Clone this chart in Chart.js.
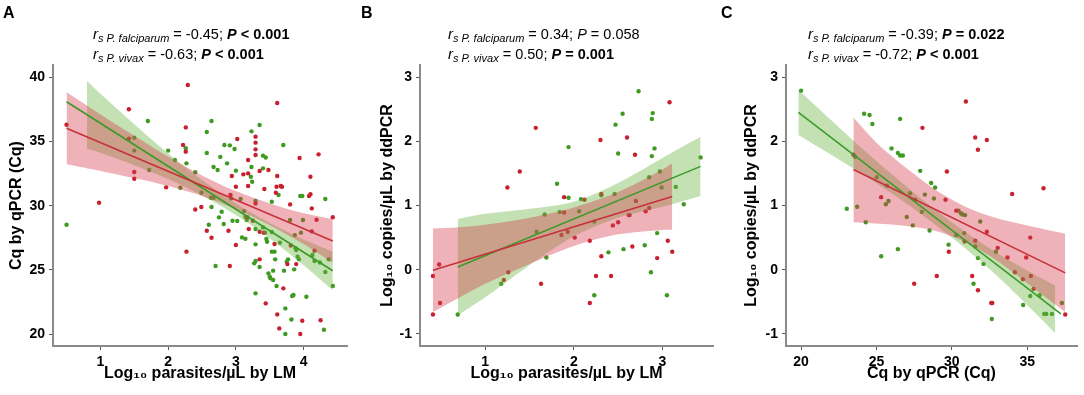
<!DOCTYPE html>
<html><head><meta charset="utf-8">
<script src="https://cdn.jsdelivr.net/npm/chart.js@4.4.1/dist/chart.umd.min.js"></script>
<style>
body{margin:0;background:#fff;width:1084px;height:395px;overflow:hidden;position:relative;font-family:"Liberation Sans",Arial,sans-serif;color:#000}
.pane{position:absolute;top:0;height:395px}
.lab{position:absolute;font-weight:bold;font-size:16px;line-height:1}
.ann{position:absolute;font-size:14.5px;line-height:1;white-space:nowrap}
.ann .r{font-style:italic;font-size:15px}
.ann sub{font-size:11px;font-style:italic;vertical-align:-3px;line-height:1}
</style></head>
<body>
<div class="pane" style="left:0;width:360px"><canvas id="cA" width="360" height="395"></canvas></div>
<div class="pane" style="left:360px;width:360px"><canvas id="cB" width="360" height="395"></canvas></div>
<div class="pane" style="left:720px;width:364px"><canvas id="cC" width="364" height="395"></canvas></div>

<div class="lab" style="left:3px;top:5px">A</div>
<div class="lab" style="left:361px;top:5px">B</div>
<div class="lab" style="left:721px;top:5px">C</div>

<div class="ann" style="left:93px;top:26px"><span class="r">r</span><sub>s P. falciparum</sub> = -0.45; <b><i>P</i> &lt; 0.001</b></div>
<div class="ann" style="left:93px;top:46px"><span class="r">r</span><sub>s P. vivax</sub> = -0.63; <b><i>P</i> &lt; 0.001</b></div>
<div class="ann" style="left:448px;top:26px"><span class="r">r</span><sub>s P. falciparum</sub> = 0.34; <i>P</i> = 0.058</div>
<div class="ann" style="left:448px;top:46px"><span class="r">r</span><sub>s P. vivax</sub> = 0.50; <b><i>P</i> = 0.001</b></div>
<div class="ann" style="left:808px;top:26px"><span class="r">r</span><sub>s P. falciparum</sub> = -0.39; <b><i>P</i> = 0.022</b></div>
<div class="ann" style="left:808px;top:46px"><span class="r">r</span><sub>s P. vivax</sub> = -0.72; <b><i>P</i> &lt; 0.001</b></div>

<script>
// ---------- Panel A: Log10 parasites/µL by LM vs Cq ----------
const A_xTicks = [1, 2, 3, 4];
const A_yTicks = [20, 25, 30, 35, 40];
const A_falcX = [0.50,0.98,1.42,1.42,1.50,1.50,1.97,2.22,2.26,2.26,2.27,2.29,2.40,2.49,2.57,2.64,2.89,2.91,2.92,2.94,3.00,3.00,3.02,3.11,3.17,3.18,3.18,3.18,3.19,3.25,3.29,3.29,3.29,3.29,3.29,3.35,3.35,3.35,3.41,3.42,3.44,3.48,3.57,3.59,3.60,3.61,3.61,3.61,3.64,3.66,3.68,3.70,3.76,3.80,3.81,3.89,3.94,3.95,3.98,4.08,4.10,4.10,4.12,4.12,4.16,4.19,4.22,4.25,4.43];
const A_falcY = [36.31,30.23,37.51,35.22,32.62,32.10,31.43,34.73,36.10,34.21,26.42,39.40,29.70,29.90,28.05,27.50,28.05,25.30,30.83,32.31,31.48,26.94,35.20,32.44,29.10,31.53,33.56,32.52,28.18,28.83,30.18,35.38,34.91,34.39,33.95,32.70,27.97,25.82,27.90,31.30,22.39,32.78,27.01,31.01,31.48,38.00,32.31,21.53,20.44,31.53,31.48,23.56,25.45,30.10,26.90,25.45,33.71,20.00,21.04,30.75,30.90,32.26,29.79,28.00,26.49,28.91,34.00,21.08,29.10];
const A_vivX = [0.50,1.50,1.50,1.70,1.72,2.00,2.10,2.18,2.26,2.27,2.40,2.49,2.57,2.57,2.60,2.63,2.64,2.64,2.67,2.67,2.70,2.73,2.75,2.77,2.79,2.82,2.83,2.87,2.91,2.93,2.95,2.98,3.00,3.02,3.07,3.09,3.12,3.14,3.14,3.16,3.22,3.23,3.23,3.24,3.27,3.29,3.29,3.29,3.29,3.29,3.35,3.35,3.40,3.40,3.40,3.43,3.44,3.45,3.46,3.48,3.50,3.51,3.53,3.53,3.53,3.55,3.55,3.57,3.58,3.60,3.63,3.65,3.70,3.71,3.73,3.73,3.75,3.77,3.80,3.82,3.83,3.85,3.86,3.87,3.88,3.89,3.91,3.93,3.95,3.96,3.98,3.99,4.04,4.13,4.16,4.24,4.30,4.32,4.32,4.37,4.43];
const A_vivY = [28.52,34.29,35.30,36.60,32.78,34.29,33.56,31.40,34.47,33.30,32.60,31.01,35.74,34.10,28.52,30.62,36.60,29.90,33.01,30.62,25.30,32.78,29.09,33.80,29.53,28.57,34.73,33.30,34.70,30.57,28.83,34.42,32.73,28.81,30.52,27.53,29.58,29.14,27.43,28.88,32.26,35.79,33.01,31.87,25.51,30.36,28.18,26.99,25.69,23.17,36.29,25.22,33.90,32.91,28.31,27.90,33.76,27.40,27.19,24.73,24.47,24.34,30.31,27.95,26.42,24.21,24.94,26.42,25.82,23.74,30.83,27.12,34.73,24.94,22.00,20.00,25.64,25.82,28.88,21.14,22.96,23.04,25.04,27.71,26.68,26.55,26.03,25.82,30.75,27.90,30.75,28.88,22.91,26.16,25.69,25.58,20.34,30.52,24.83,25.82,23.74];
const A_falcFitX = [0.50, 4.43];
const A_falcFitY = [36.03, 27.25];
const A_vivFitX = [0.50, 4.43];
const A_vivFitY = [38.10, 24.93];
const A_falcBandX  = [0.5, 1.0, 1.5, 2.0, 2.5, 3.0, 3.5, 4.0, 4.43];
const A_falcBandHi = [38.83,37.11,35.45,33.83,32.36,31.14,30.18,29.41,28.95];
const A_falcBandLo = [33.23,32.71,32.15,31.53,30.76,29.74,28.48,27.01,25.55];
const A_vivBandX  = [0.8, 1.0, 1.5, 2.0, 2.5, 3.0, 3.5, 4.0, 4.43];
const A_vivBandHi = [39.74,38.72,36.35,34.07,32.00,30.17,28.65,27.37,26.43];
const A_vivBandLo = [34.44,34.12,33.15,32.07,30.80,29.27,27.45,25.37,23.43];

// ---------- Panel B: Log10 parasites/µL by LM vs Log10 copies/µL ----------
const B_xTicks = [1, 2, 3];
const B_yTicks = [-1, 0, 1, 2, 3];
const B_falcX = [0.41,0.41,0.48,0.49,1.25,1.26,1.21,1.39,1.57,1.63,1.86,1.89,1.89,1.93,2.01,2.12,2.18,2.18,2.25,2.30,2.31,2.31,2.42,2.44,2.50,2.60,2.62,2.66,2.69,2.70,2.81,2.85,2.94,3.06,3.08,3.11];
const B_falcY = [-0.10,-0.70,0.08,-0.52,1.28,-0.04,-0.16,1.53,2.21,-0.22,0.54,1.13,0.89,0.59,0.50,1.09,0.45,-0.52,-0.10,2.02,1.18,0.21,-0.10,0.69,0.74,2.06,0.85,0.36,1.79,1.07,0.91,0.96,0.18,0.45,2.61,0.28];
const B_vivX = [0.69,1.18,1.58,1.67,1.69,1.81,1.84,1.94,1.94,2.06,2.08,2.23,2.23,2.31,2.39,2.46,2.47,2.50,2.55,2.56,2.63,2.73,2.80,2.85,2.87,2.88,2.88,2.89,2.91,2.94,2.97,2.99,3.05,3.15,3.24,3.43];
const B_vivY = [-0.70,-0.22,0.59,0.86,0.19,1.34,0.90,1.12,1.91,0.91,1.10,-0.40,0.75,1.16,0.27,1.18,2.26,1.81,2.43,0.32,0.85,2.78,0.38,1.44,-0.04,1.77,2.35,2.44,1.89,0.57,1.53,1.28,-0.40,1.29,1.02,1.75];
const B_falcFitX = [0.41, 3.11];
const B_falcFitY = [-0.01, 1.14];
const B_vivFitX = [0.69, 3.43];
const B_vivFitY = [0.04, 1.61];
const B_falcBandX  = [0.41, 0.7, 1.0, 1.5, 2.0, 2.5, 3.0, 3.11];
const B_falcBandHi = [0.64,0.66,0.70,0.81,0.97,1.21,1.56,1.66];
const B_falcBandLo = [-0.66,-0.44,-0.22,0.09,0.37,0.55,0.62,0.62];
const B_vivBandX  = [0.69, 1.0, 1.5, 2.0, 2.5, 3.0, 3.43];
const B_vivBandHi = [0.79,0.87,0.95,1.06,1.35,1.74,2.07];
const B_vivBandLo = [-0.71,-0.43,0.07,0.52,0.81,0.98,1.15];

// ---------- Panel C: Cq vs Log10 copies/µL ----------
const C_xTicks = [20, 25, 30, 35];
const C_yTicks = [-1, 0, 1, 2, 3];
const C_falcX = [23.47,25.31,27.50,28.05,29.00,29.67,29.58,29.80,30.29,30.84,30.93,31.35,31.55,31.55,31.73,31.73,32.32,32.32,32.61,32.68,33.04,33.69,34.00,34.18,34.71,34.93,35.20,35.24,35.42,36.08,37.52];
const C_falcY = [1.79,1.13,-0.22,2.21,-0.10,1.53,1.09,0.28,0.92,0.44,2.62,-0.10,2.06,0.45,1.87,-0.32,2.02,0.59,-0.52,-0.52,0.34,0.19,1.18,-0.04,-0.15,0.19,0.50,-0.10,-0.30,1.27,-0.70];
const C_vivX = [20.00,23.03,23.58,23.72,24.18,24.54,24.73,24.29,25.02,25.31,25.62,25.69,25.80,26.00,26.42,26.42,26.57,26.57,26.75,27.01,27.23,27.41,27.57,27.90,28.01,28.21,28.52,28.63,28.81,28.89,29.78,30.29,30.44,30.60,30.71,30.82,30.88,31.44,31.55,31.73,31.88,32.10,32.65,32.92,34.73,35.20,35.82,36.13,36.26,36.64,37.30];
const C_vivY = [2.79,0.95,1.76,0.98,2.43,2.41,2.27,0.74,1.44,0.21,1.02,1.31,1.07,1.89,0.32,1.82,1.78,2.35,1.78,0.82,1.19,0.69,1.09,1.54,0.90,1.17,0.61,1.35,1.11,1.28,0.39,0.54,0.92,0.88,0.86,0.57,0.85,-0.22,0.36,0.18,0.75,0.09,-0.77,0.28,-0.55,-0.41,-0.40,-0.69,-0.69,-0.69,-0.52];
const C_falcFitX = [23.47, 37.52];
const C_falcFitY = [1.56, -0.05];
const C_vivFitX = [19.82, 37.23];
const C_vivFitY = [2.45, -0.69];
const C_falcBandX  = [23.47, 25, 27, 29, 31, 33, 35, 37.52];
const C_falcBandHi = [2.37,1.98,1.58,1.23,0.97,0.80,0.69,0.56];
const C_falcBandLo = [0.74,0.72,0.68,0.60,0.42,0.14,-0.21,-0.66];
const C_vivBandX  = [19.82, 22, 24, 26, 28, 30, 32, 34, 36.86];
const C_vivBandHi = [2.80,2.33,1.90,1.49,1.10,0.74,0.41,0.12,-0.25];
const C_vivBandLo = [2.10,1.79,1.50,1.19,0.86,0.50,0.11,-0.32,-0.99];

// ---------- styling ----------
const RED_PT = '#c8202e', GRN_PT = '#3f9a22';
const RED_LN = '#c8303a', GRN_LN = '#3c9a28';
const RED_BAND = 'rgba(212,62,78,0.40)', GRN_BAND = 'rgba(105,180,65,0.40)';
Chart.defaults.font.family = '"Liberation Sans", Arial, sans-serif';
Chart.defaults.color = '#000';

const zip = (xs, ys) => xs.map((x, i) => ({x: x, y: ys[i]}));

function panel(id, o) {
  const pts = (xs, ys, c) => ({type:'scatter', data: zip(xs, ys), backgroundColor: c, borderColor: c,
    pointRadius: 2.2, borderWidth: 0, order: 3});
  const edge = (xs, ys, fill, bg) => ({type:'line', data: zip(xs, ys), borderWidth: 0, borderColor: 'rgba(0,0,0,0)',
    pointRadius: 0, tension: 0.3, fill: fill, backgroundColor: bg, order: 2});
  const fit = (xs, ys, c) => ({type:'line', data: zip(xs, ys), borderColor: c, borderWidth: 1.6,
    pointRadius: 0, fill: false, order: 1});
  const datasets = [
    pts(o.falcX, o.falcY, RED_PT),
    pts(o.vivX, o.vivY, GRN_PT),
    edge(o.falcBandX, o.falcBandHi, false, RED_BAND),
    edge(o.falcBandX, o.falcBandLo, '-1', RED_BAND),
    edge(o.vivBandX, o.vivBandHi, false, GRN_BAND),
    edge(o.vivBandX, o.vivBandLo, '-1', GRN_BAND),
    fit(o.falcFitX, o.falcFitY, RED_LN),
    fit(o.vivFitX, o.vivFitY, GRN_LN)
  ];
  const tickFont = {size: 14, weight: 'bold'};
  const titleFont = {size: 16, weight: 'bold'};
  const grid = {drawOnChartArea: false, drawTicks: true, tickLength: 4, tickColor: '#555', tickWidth: 1};
  const border = {display: true, color: '#8a8a8a', width: 2};
  new Chart(document.getElementById(id), {
    type: 'scatter',
    data: {datasets},
    options: {
      responsive: false, animation: false, devicePixelRatio: 1,
      layout: {padding: {left: 0, right: o.padRight, top: 65, bottom: 0}},
      plugins: {legend: {display: false}, tooltip: {enabled: false}},
      scales: {
        x: {type: 'linear', min: o.xMin, max: o.xMax, grid, border,
            afterBuildTicks: s => { s.ticks = o.xTicks.map(v => ({value: v})); },
            afterFit: s => { s.height = 49; },
            ticks: {font: tickFont, padding: 4, maxRotation: 0, color: '#000'},
            title: {display: true, text: o.xTitle, font: titleFont, color: '#000', padding: {top: 0, bottom: 12}}},
        y: {type: 'linear', min: o.yMin, max: o.yMax, grid, border,
            afterBuildTicks: s => { s.ticks = o.yTicks.map(v => ({value: v})); },
            afterFit: s => { s.width = o.yWidth; },
            ticks: {font: tickFont, padding: 4, color: '#000'},
            title: {display: true, text: o.yTitle, font: titleFont, color: '#000', padding: {top: o.yTitlePad, bottom: 0}}}
      }
    }
  });
}

panel('cA', {falcX: A_falcX, falcY: A_falcY, vivX: A_vivX, vivY: A_vivY,
  falcFitX: A_falcFitX, falcFitY: A_falcFitY, vivFitX: A_vivFitX, vivFitY: A_vivFitY,
  falcBandX: A_falcBandX, falcBandHi: A_falcBandHi, falcBandLo: A_falcBandLo,
  vivBandX: A_vivBandX, vivBandHi: A_vivBandHi, vivBandLo: A_vivBandLo,
  xTicks: A_xTicks, yTicks: A_yTicks, xMin: 0.30, xMax: 4.64, yMin: 19.07, yMax: 40.96,
  xTitle: 'Log\u2081\u2080 parasites/\u00b5L by LM', yTitle: 'Cq by qPCR (Cq)',
  yWidth: 53, padRight: 13, yTitlePad: 7.4});

panel('cB', {falcX: B_falcX, falcY: B_falcY, vivX: B_vivX, vivY: B_vivY,
  falcFitX: B_falcFitX, falcFitY: B_falcFitY, vivFitX: B_vivFitX, vivFitY: B_vivFitY,
  falcBandX: B_falcBandX, falcBandHi: B_falcBandHi, falcBandLo: B_falcBandLo,
  vivBandX: B_vivBandX, vivBandHi: B_vivBandHi, vivBandLo: B_vivBandLo,
  xTicks: B_xTicks, yTicks: B_yTicks, xMin: 0.264, xMax: 3.57, yMin: -1.19, yMax: 3.19,
  xTitle: 'Log\u2081\u2080 parasites/\u00b5L by LM', yTitle: 'Log\u2081\u2080 copies/\u00b5L by ddPCR',
  yWidth: 60, padRight: 7, yTitlePad: 18.4});

panel('cC', {falcX: C_falcX, falcY: C_falcY, vivX: C_vivX, vivY: C_vivY,
  falcFitX: C_falcFitX, falcFitY: C_falcFitY, vivFitX: C_vivFitX, vivFitY: C_vivFitY,
  falcBandX: C_falcBandX, falcBandHi: C_falcBandHi, falcBandLo: C_falcBandLo,
  vivBandX: C_vivBandX, vivBandHi: C_vivBandHi, vivBandLo: C_vivBandLo,
  xTicks: C_xTicks, yTicks: C_yTicks, xMin: 19.0, xMax: 38.3, yMin: -1.19, yMax: 3.19,
  xTitle: 'Cq by qPCR (Cq)', yTitle: 'Log\u2081\u2080 copies/\u00b5L by ddPCR',
  yWidth: 66, padRight: 7, yTitlePad: 22.4});
</script>
</body></html>
